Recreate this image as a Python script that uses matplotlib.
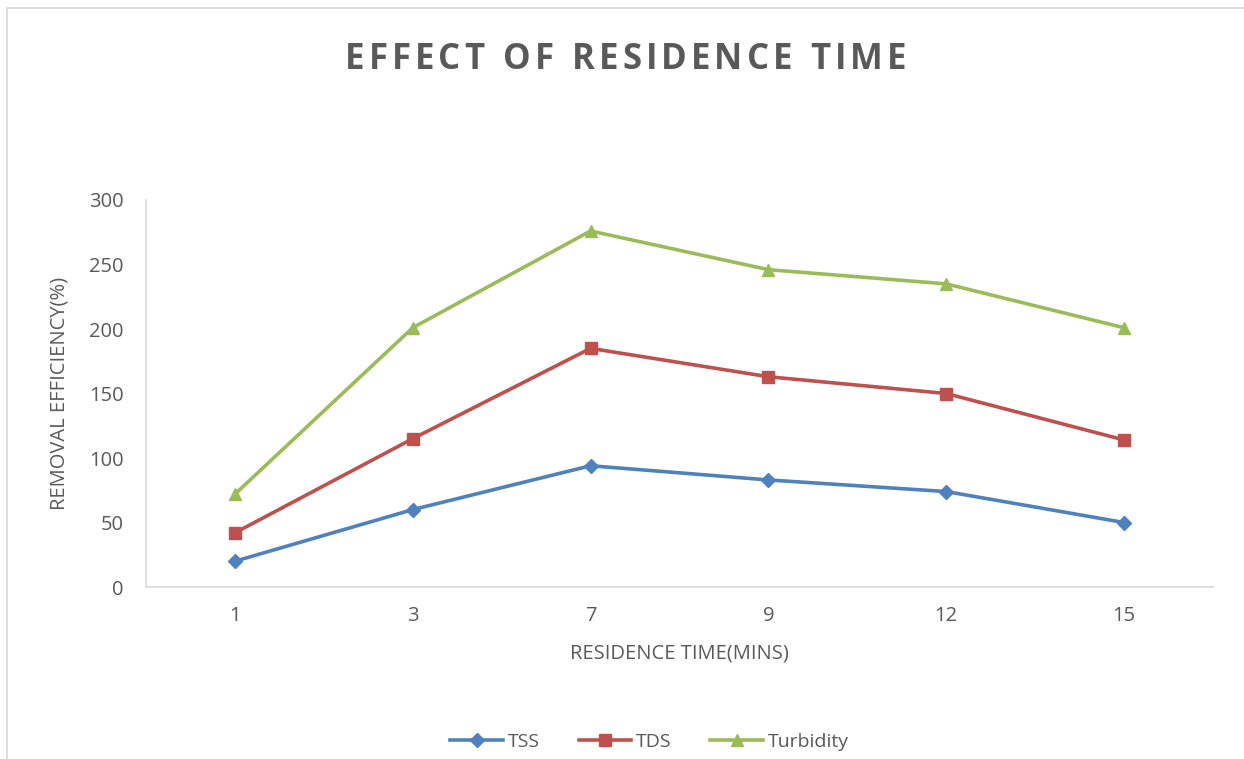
import matplotlib.pyplot as plt
import numpy as np
from matplotlib.patches import Rectangle

# Residence time categories and removal efficiency series
times = ['1', '3', '7', '9', '12', '15']
tss = [20, 60, 94, 83, 74, 50]
tds = [42, 115, 185, 163, 150, 114]
turbidity = [72, 201, 276, 246, 235, 201]

text_color = '#595959'
axis_color = '#d9d9d9'

plt.rcParams['font.family'] = ['Open Sans', 'DejaVu Sans']

fig = plt.figure(figsize=(12.44, 7.59), dpi=100)
ax = fig.add_axes([0.1174, 0.2266, 0.8576, 0.5099])

# Outer chart frame
fig.patches.append(Rectangle((7 / 1244, -0.1), 1.2, (759 - 8) / 759 + 0.1,
                             transform=fig.transFigure, fill=False,
                             edgecolor=axis_color, linewidth=1.2))

x = np.arange(len(times))
ax.plot(x, tss, color='#4F81BD', linewidth=2.6, marker='D', markersize=7,
        label='TSS')
ax.plot(x, tds, color='#C0504D', linewidth=2.6, marker='s', markersize=8,
        label='TDS')
ax.plot(x, turbidity, color='#9BBB59', linewidth=2.6, marker='^', markersize=9,
        label='Turbidity')

ax.set_xlim(-0.5, len(times) - 0.5)
ax.set_ylim(0, 300)
ax.set_xticks(x)
ax.set_xticklabels(times)
ax.set_yticks(range(0, 301, 50))
ax.tick_params(length=0, labelsize=14.5, labelcolor=text_color)
ax.tick_params(axis='x', pad=14)
ax.tick_params(axis='y', pad=16)

for side in ['top', 'right']:
    ax.spines[side].set_visible(False)
for side in ['left', 'bottom']:
    ax.spines[side].set_color(axis_color)
    ax.spines[side].set_linewidth(1.2)

ax.set_xlabel('RESIDENCE TIME(MINS)', fontsize=14.5, color=text_color, labelpad=12)
ax.set_ylabel('REMOVAL EFFICIENCY(%)', fontsize=14.5, color=text_color, labelpad=14)

# Letter-spaced title: lay out characters one by one
title = 'EFFECT OF RESIDENCE TIME'
tracking = 4.0  # extra pixels between letters
renderer = fig.canvas.get_renderer()
props = dict(fontsize=25, fontweight='bold', color=text_color, va='center', ha='left')
widths = []
for ch in title:
    t = fig.text(0, 0, ch if ch != ' ' else 'I', **props)
    w = t.get_window_extent(renderer).width
    if ch == ' ':
        w *= 0.9
    widths.append(w)
    t.remove()
total = sum(widths) + tracking * (len(title) - 1)
xpos = 0.503 * 1244 - total / 2
for ch, w in zip(title, widths):
    if ch != ' ':
        fig.text(xpos / 1244, 0.921, ch, **props)
    xpos += w + tracking

ax.legend(loc='center', bbox_to_anchor=(0.472, -0.4), ncol=3, frameon=False,
          fontsize=14, labelcolor=text_color, handlelength=2.7, columnspacing=2.0,
          handletextpad=0.25)

fig.savefig('out.png', dpi=100)
